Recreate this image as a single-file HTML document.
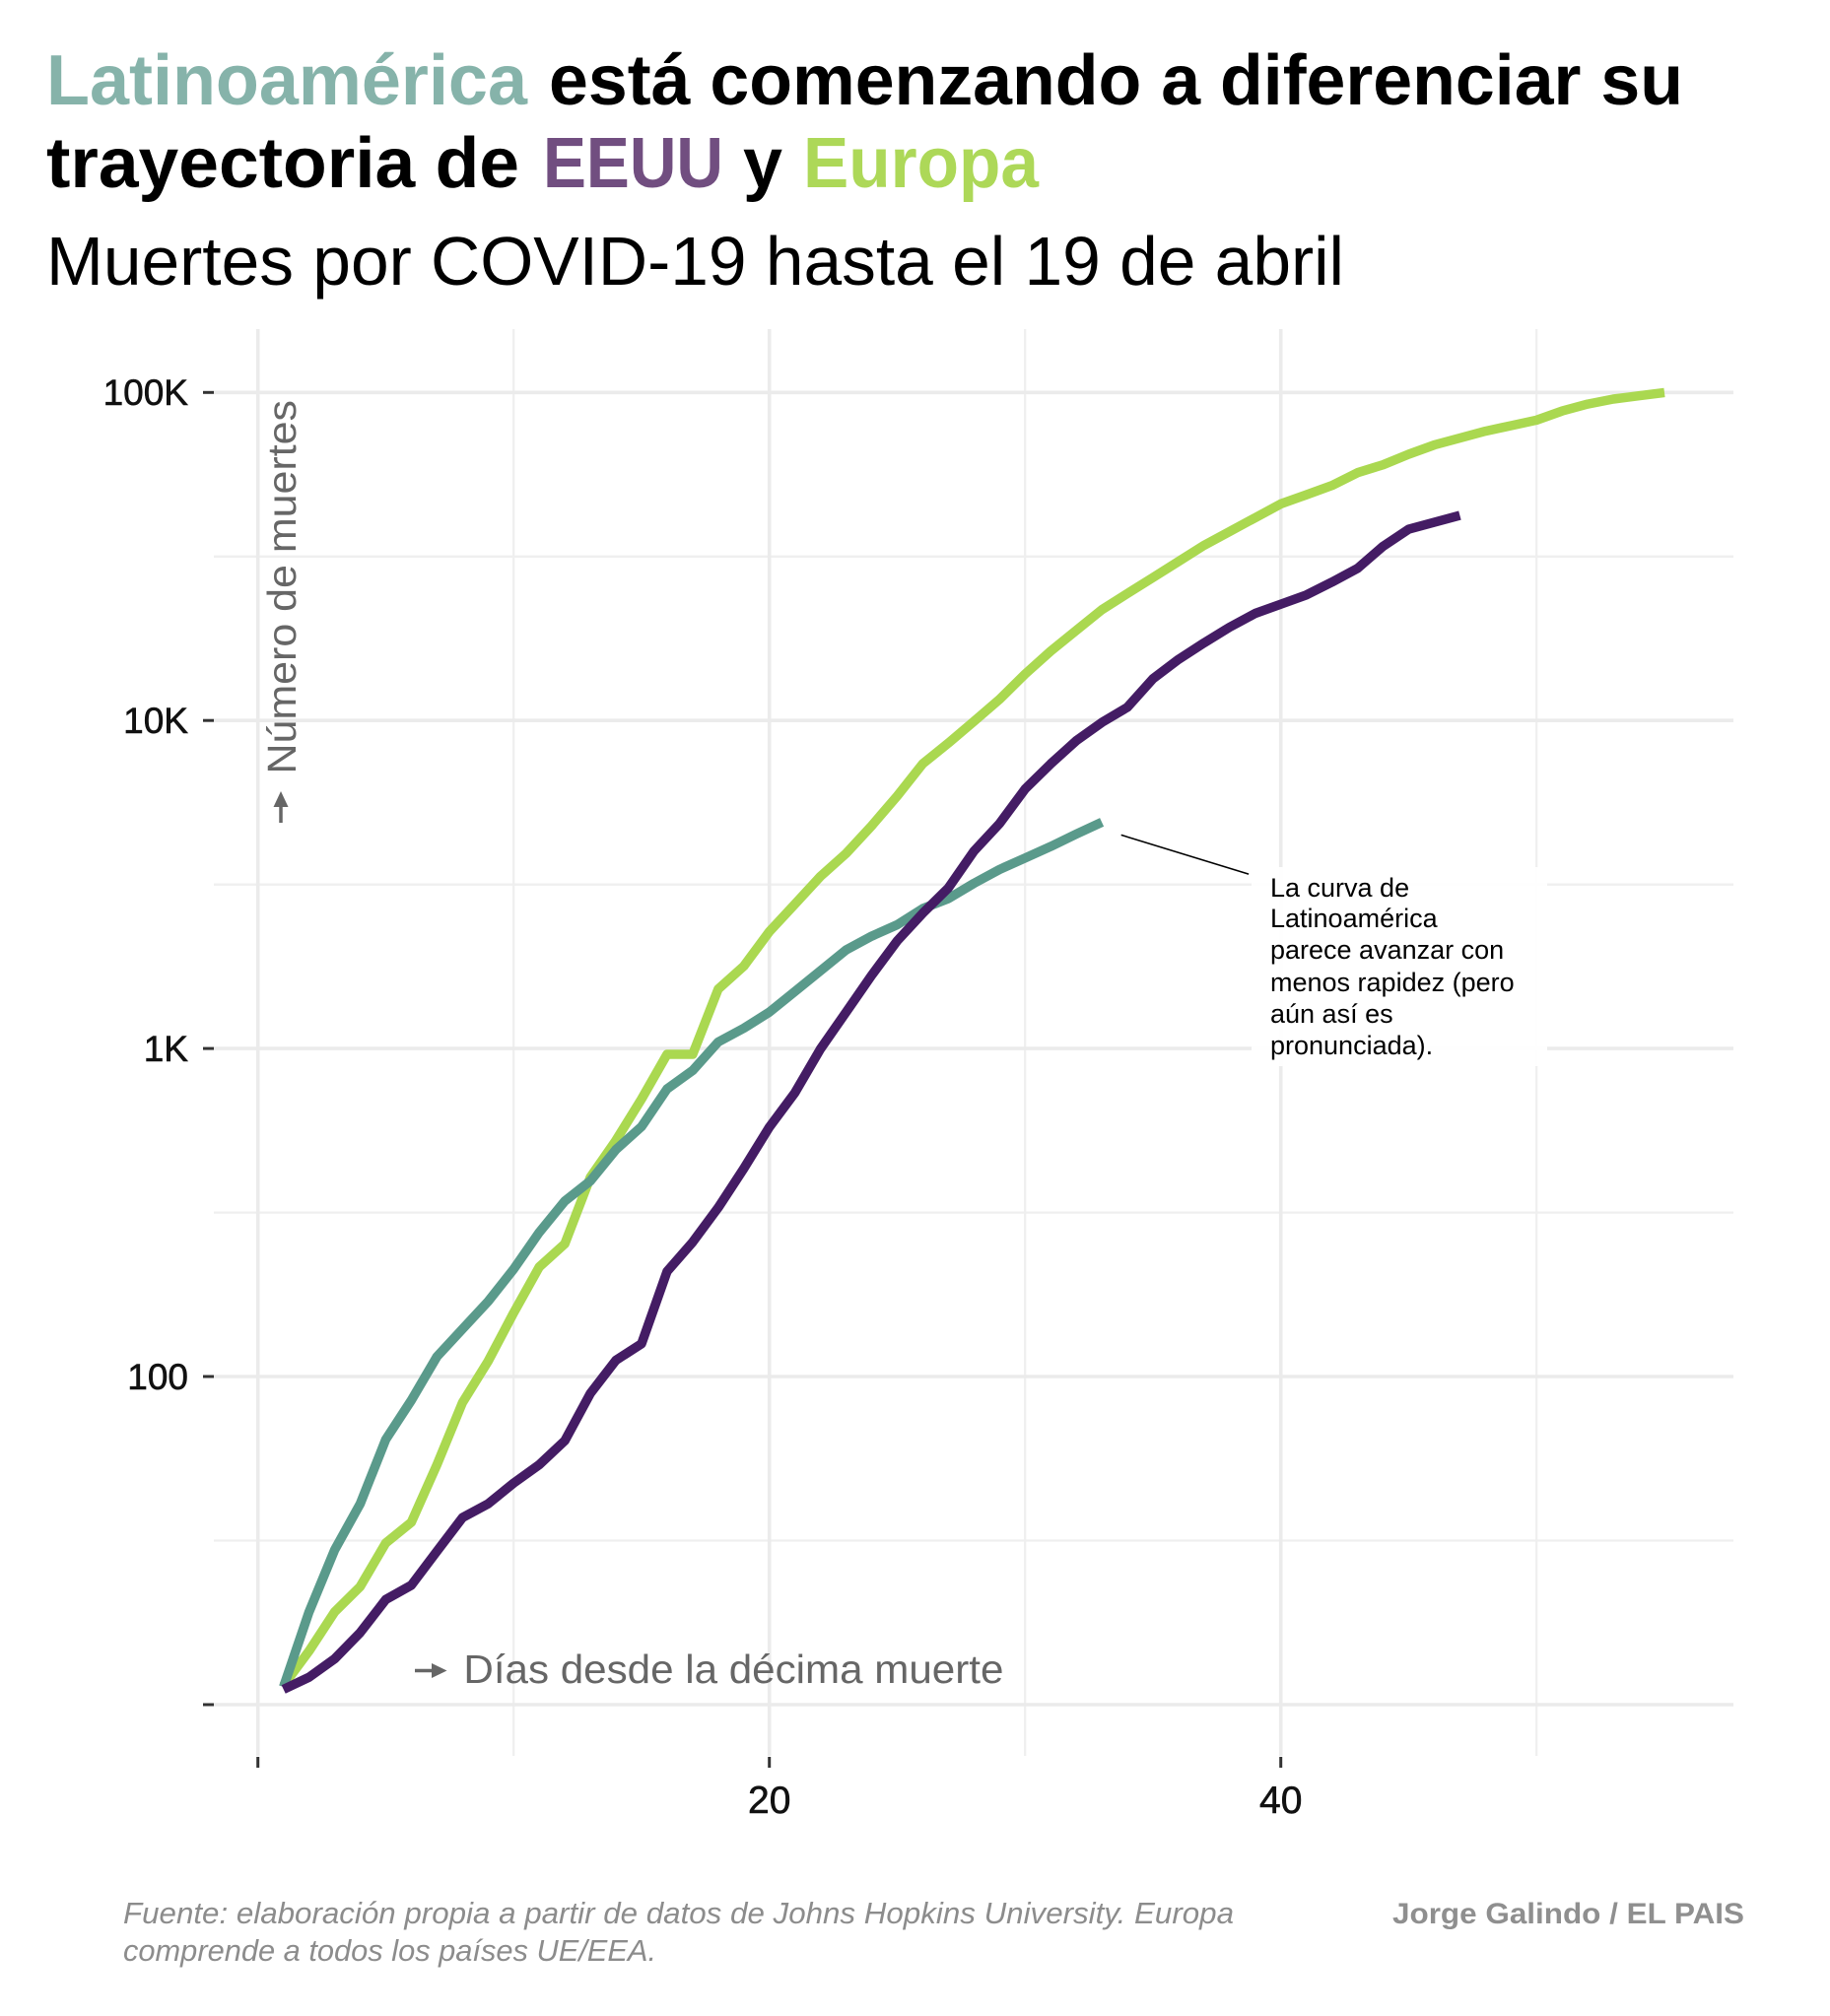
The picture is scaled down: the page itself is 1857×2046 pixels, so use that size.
<!DOCTYPE html>
<html>
<head>
<meta charset="utf-8">
<style>
  html, body { margin:0; padding:0; background:#ffffff; }
  svg { display:block; }
  text { font-family: "Liberation Sans", "DejaVu Sans", sans-serif; }
</style>
</head>
<body>
<svg width="1857" height="2046" viewBox="0 0 1857 2046" xmlns="http://www.w3.org/2000/svg">
  <rect x="0" y="0" width="1857" height="2046" fill="#ffffff"/>

  <!-- Title -->
  <text x="47" y="106" font-size="72" font-weight="bold" fill="#86b3aa" textLength="488" lengthAdjust="spacingAndGlyphs">Latinoamérica</text>
  <text x="557" y="106" font-size="72" font-weight="bold" fill="#000000" textLength="1151" lengthAdjust="spacingAndGlyphs">está comenzando a diferenciar su</text>
  <text x="47" y="190" font-size="72" font-weight="bold" fill="#000000" textLength="480" lengthAdjust="spacingAndGlyphs">trayectoria de</text>
  <text x="551" y="190" font-size="72" font-weight="bold" fill="#714e80" textLength="183" lengthAdjust="spacingAndGlyphs">EEUU</text>
  <text x="754" y="190" font-size="72" font-weight="bold" fill="#000000" textLength="40" lengthAdjust="spacingAndGlyphs">y</text>
  <text x="815" y="190" font-size="72" font-weight="bold" fill="#add858" textLength="239" lengthAdjust="spacingAndGlyphs">Europa</text>

  <!-- Subtitle -->
  <text x="47" y="289" font-size="70" fill="#000000" textLength="1317" lengthAdjust="spacingAndGlyphs">Muertes por COVID-19 hasta el 19 de abril</text>

  <!-- Gridlines: minor -->
  <g stroke="#efefef" stroke-width="2.3" fill="none">
    <line x1="521.2" y1="334" x2="521.2" y2="1782"/>
    <line x1="1040.2" y1="334" x2="1040.2" y2="1782"/>
    <line x1="1559.2" y1="334" x2="1559.2" y2="1782"/>
    <line x1="217" y1="564.8" x2="1759" y2="564.8"/>
    <line x1="217" y1="897.7" x2="1759" y2="897.7"/>
    <line x1="217" y1="1230.6" x2="1759" y2="1230.6"/>
    <line x1="217" y1="1563.5" x2="1759" y2="1563.5"/>
  </g>
  <!-- Gridlines: major -->
  <g stroke="#ebebeb" stroke-width="3.6" fill="none">
    <line x1="261.7" y1="334" x2="261.7" y2="1782"/>
    <line x1="780.7" y1="334" x2="780.7" y2="1782"/>
    <line x1="1299.7" y1="334" x2="1299.7" y2="1782"/>
    <line x1="217" y1="398.3" x2="1759" y2="398.3"/>
    <line x1="217" y1="731.2" x2="1759" y2="731.2"/>
    <line x1="217" y1="1064.1" x2="1759" y2="1064.1"/>
    <line x1="217" y1="1397" x2="1759" y2="1397"/>
    <line x1="217" y1="1730" x2="1759" y2="1730"/>
  </g>

  <!-- Axis ticks -->
  <g stroke="#333333" stroke-width="3">
    <line x1="206" y1="398.3" x2="217" y2="398.3"/>
    <line x1="206" y1="731.2" x2="217" y2="731.2"/>
    <line x1="206" y1="1064.1" x2="217" y2="1064.1"/>
    <line x1="206" y1="1397" x2="217" y2="1397"/>
    <line x1="206" y1="1730" x2="217" y2="1730"/>
    <line x1="261.7" y1="1783" x2="261.7" y2="1794"/>
    <line x1="780.7" y1="1783" x2="780.7" y2="1794"/>
    <line x1="1299.7" y1="1783" x2="1299.7" y2="1794"/>
  </g>

  <!-- Y tick labels -->
  <g font-size="37" fill="#111111" stroke="#111111" stroke-width="0.6" text-anchor="end">
    <text x="191" y="411">100K</text>
    <text x="191" y="744">10K</text>
    <text x="191" y="1077">1K</text>
    <text x="191" y="1410">100</text>
  </g>
  <!-- X tick labels -->
  <g font-size="39" fill="#111111" stroke="#111111" stroke-width="0.6" text-anchor="middle">
    <text x="780.7" y="1840">20</text>
    <text x="1299.7" y="1840">40</text>
  </g>

  <!-- Axis titles -->
  <line x1="285" y1="835" x2="285" y2="816" stroke="#666666" stroke-width="3.5"/>
  <polygon points="285,803 277.5,819 292.5,819" fill="#666666"/>
  <text transform="translate(300,785.5) rotate(-90)" x="0" y="0" font-size="41" fill="#666666" textLength="379.5" lengthAdjust="spacingAndGlyphs">Número de muertes</text>

  <line x1="421" y1="1695.5" x2="441" y2="1695.5" stroke="#666666" stroke-width="3.5"/>
  <polygon points="453.5,1695.5 438,1688 438,1703" fill="#666666"/>
  <text x="470.4" y="1708" font-size="41" fill="#666666" textLength="548" lengthAdjust="spacingAndGlyphs">Días desde la décima muerte</text>

  <!-- Series -->
  <g fill="none" stroke-width="9.5" stroke-linejoin="round" stroke-linecap="butt">
    <polyline stroke="#aad850" points="287.7,1710.6 313.6,1675.6 339.6,1635.9 365.5,1610.2 391.5,1565.9 417.4,1544.9 443.4,1486.5 469.3,1423.5 495.3,1381.5 521.2,1332.4 547.2,1285.8 573.1,1262.4 599.1,1194.7 625.0,1157.4 651.0,1115.4 676.9,1070 702.9,1070 728.8,1003.8 754.8,980.5 780.7,945.5 806.7,917.5 832.6,889.4 858.6,866.1 884.5,838.1 910.5,807.8 936.4,775.1 962.4,754.1 988.3,732.1 1014.3,709.7 1040.2,684.1 1066.2,660.8 1092.1,639.8 1118.1,618.8 1144.0,602.4 1170.0,586.1 1195.9,569.8 1221.9,553.4 1247.8,539.4 1273.8,525.4 1299.7,511.4 1325.7,502.1 1351.6,492.7 1377.6,479.7 1403.5,471.7 1429.5,461.0 1455.4,451.6 1481.4,444.6 1507.3,437.6 1533.3,432.0 1559.2,426.4 1585.2,417.1 1611.1,410.1 1637.1,405.0 1663.0,401.7 1689.0,398.4"/>
    <polyline stroke="#5a9a8b" points="287.7,1712.0 313.6,1635.9 339.6,1572.9 365.5,1526.2 391.5,1460.8 417.4,1421.1 443.4,1376.8 469.3,1348.8 495.3,1320.8 521.2,1288.1 547.2,1250.7 573.1,1219.0 599.1,1198.5 625.0,1166.7 651.0,1143.4 676.9,1105.1 702.9,1086.4 728.8,1057.5 754.8,1043.5 780.7,1027.2 806.7,1006.2 832.6,985.2 858.6,964.1 884.5,950.1 910.5,938.5 936.4,922.1 962.4,911.9 988.3,896.5 1014.3,882.4 1040.2,870.8 1066.2,859.1 1092.1,846.5 1118.1,834.4"/>
    <polyline stroke="#441c64" points="287.7,1714.5 313.6,1702.2 339.6,1683.5 365.5,1656.9 391.5,1623.3 417.4,1608.8 443.4,1574.3 469.3,1540.2 495.3,1526.2 521.2,1505.2 547.2,1486.5 573.1,1462.2 599.1,1414.1 625.0,1380.5 651.0,1363.7 676.9,1290.4 702.9,1260.6 728.8,1225.6 754.8,1185.9 780.7,1143.9 806.7,1108.9 832.6,1064.5 858.6,1027.2 884.5,989.8 910.5,954.8 936.4,926.8 962.4,901.1 988.3,863.8 1014.3,835.8 1040.2,800.8 1066.2,775.2 1092.1,751.8 1118.1,733.2 1144.0,717.8 1170.0,688.8 1195.9,669.2 1221.9,652.4 1247.8,636.5 1273.8,622.5 1299.7,613.2 1325.7,603.8 1351.6,590.8 1377.6,576.8 1403.5,554.4 1429.5,537.1 1455.4,530.1 1481.4,523.1"/>
  </g>

  <!-- Annotation -->
  <line x1="1137.7" y1="847.4" x2="1267.1" y2="887.1" stroke="#000000" stroke-width="1.6"/>
  <rect x="1270" y="880" width="300" height="202" fill="#ffffff" fill-opacity="0.92"/>
  <g font-size="27" fill="#000000">
    <text x="1289" y="910">La curva de</text>
    <text x="1289" y="941">Latinoamérica</text>
    <text x="1289" y="973">parece avanzar con</text>
    <text x="1289" y="1006">menos rapidez (pero</text>
    <text x="1289" y="1038">aún así es</text>
    <text x="1289" y="1070">pronunciada).</text>
  </g>

  <!-- Footer -->
  <text x="125" y="1952" font-size="31" font-style="italic" fill="#8c8c8c" textLength="1127" lengthAdjust="spacingAndGlyphs">Fuente: elaboración propia a partir de datos de Johns Hopkins University. Europa</text>
  <text x="125" y="1990" font-size="31" font-style="italic" fill="#8c8c8c" textLength="541" lengthAdjust="spacingAndGlyphs">comprende a todos los países UE/EEA.</text>
  <text x="1413" y="1952" font-size="30" font-weight="bold" fill="#8f8f8f" textLength="357" lengthAdjust="spacingAndGlyphs">Jorge Galindo / EL PAIS</text>
</svg>
</body>
</html>
